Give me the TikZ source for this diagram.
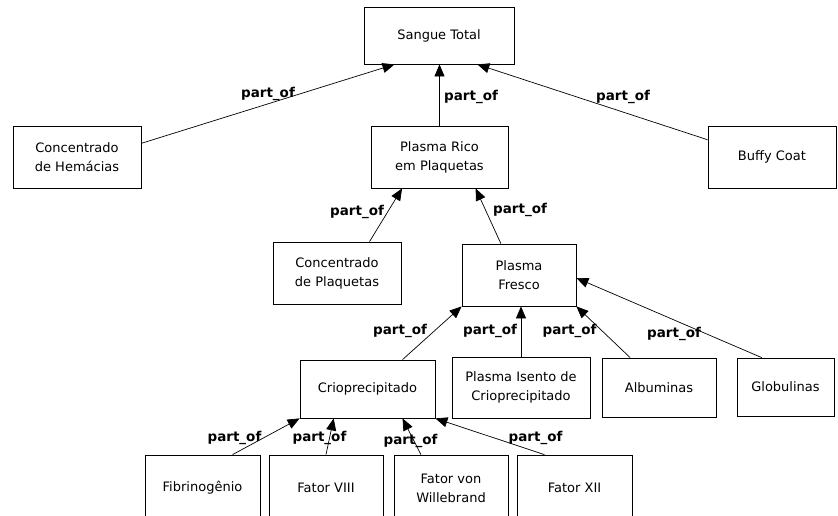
\documentclass[tikz,border=0pt]{standalone}
\usepackage{fontspec}
\setmainfont{DejaVu Sans}
\usetikzlibrary{arrows.meta}
\begin{document}
\begin{tikzpicture}[x=1pt,y=-1pt,
  box/.style={draw=black,line width=0.8pt,align=center,inner sep=0pt,
    font=\fontsize{13}{19}\selectfont,text=black},
  rel/.style={draw=black,line width=0.7pt,-{Triangle[length=12pt,width=10pt]}},
  lbl/.style={font=\fontsize{13.5}{16}\selectfont\bfseries,inner sep=0pt,text=black}]
\useasboundingbox (0,0) rectangle (838,515);
\clip (0,0) rectangle (838,515);
% nodes
\node[box,minimum width=150,minimum height=57] (st) at (439,35.5) {Sangue Total};
\node[box,minimum width=128,minimum height=62] (ch) at (77,157) {Concentrado\\de Hemácias};
\node[box,minimum width=137,minimum height=62] (pr) at (439.5,157) {Plasma Rico\\em Plaquetas};
\node[box,minimum width=128,minimum height=62] (bc) at (772,157) {Buffy Coat};
\node[box,minimum width=128,minimum height=62] (cp) at (337,273) {Concentrado\\de Plaquetas};
\node[box,minimum width=114,minimum height=62] (pf) at (519,275) {Plasma\\Fresco};
\node[box,minimum width=135,minimum height=58] (cr) at (367.5,389) {Crioprecipitado};
\node[box,minimum width=138,minimum height=61] (pi) at (521,387.5) {Plasma Isento de\\Crioprecipitado};
\node[box,minimum width=114,minimum height=59] (al) at (659,387.5) {Albuminas};
\node[box,minimum width=97,minimum height=58] (gl) at (785.5,387) {Globulinas};
\node[box,minimum width=115,minimum height=66] (fb) at (202.5,488) {Fibrinogênio};
\node[box,minimum width=114,minimum height=66] (f8) at (326,488) {Fator VIII};
\node[box,minimum width=114,minimum height=66] (fw) at (451,488) {Fator von\\Willebrand};
\node[box,minimum width=115,minimum height=66] (f12) at (574.5,488) {Fator XII};
% connectors
\draw[rel] (ch.12) -- (st.213);
\draw[rel] (pr.north) -- (pr.north |- st.south);
\draw[rel] (bc.165) -- (st.323);
\draw[rel] (cp.44) -- (pr.220);
\draw[rel] (pf.120) -- (pr.319);
\draw[rel] (cr.40) -- (pf.south west);
\draw[rel] (pi.north) -- (pi.north |- pf.south);
\draw[rel] (al.134) -- (pf.south east);
\draw[rel] (gl.129) -- (pf.357);
\draw[rel] (fb.48) -- (cr.south west);
\draw[rel] (f8.north) -- (cr.221);
\draw[rel] (fw.132) -- (cr.320);
\draw[rel] (f12.132) -- (cr.south east);
% labels
\node[lbl] (l1) at (268,94) {part\_of};
\node[lbl] (l2) at (471,97) {part\_of};
\node[lbl] (l3) at (623,97) {part\_of};
\node[lbl] (l4) at (357,212) {part\_of};
\node[lbl] (l5) at (520,210) {part\_of};
\node[lbl] (l6) at (400,331) {part\_of};
\node[lbl] (l7) at (490,331) {part\_of};
\node[lbl] (l8) at (569.5,331) {part\_of};
\node[lbl] (l9) at (674,334) {part\_of};
\node[lbl] (l10) at (234.5,438) {part\_of};
\node[lbl] (l11) at (319.5,438) {part\_of};
\node[lbl] (l12) at (410.5,441) {part\_of};
\node[lbl] (l13) at (535.5,438) {part\_of};
\end{tikzpicture}
\end{document}
